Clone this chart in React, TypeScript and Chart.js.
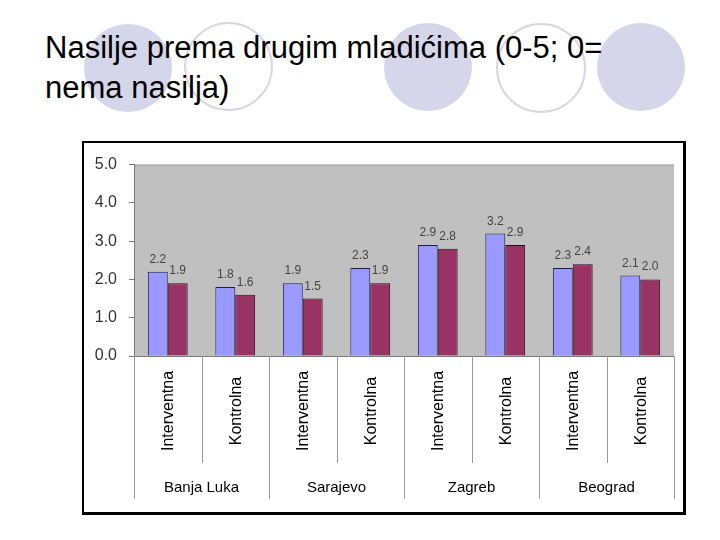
import React, { useEffect, useRef } from "react";
import { Chart, registerables } from "chart.js";

Chart.register(...registerables);

const titleText = "Nasilje prema drugim mladićima (0-5; 0= nema nasilja)";
const cities = ["Banja Luka", "Sarajevo", "Zagreb", "Beograd"];
const categories = [
  "Interventna", "Kontrolna",
  "Interventna", "Kontrolna",
  "Interventna", "Kontrolna",
  "Interventna", "Kontrolna",
];
const seriesBlue = [2.2, 1.8, 1.9, 2.3, 2.9, 3.2, 2.3, 2.1];
const seriesMaroon = [1.9, 1.6, 1.5, 1.9, 2.8, 2.9, 2.4, 2.0];
const yMin = 0;
const yMax = 5;
const yStep = 1;

const FONT = "'Liberation Sans', Arial, sans-serif";

const bgPlugin = {
  id: "plotBg",
  beforeDraw(chart: any) {
    const { ctx, chartArea: a } = chart;
    ctx.save();
    ctx.fillStyle = "#c0c0c0";
    ctx.fillRect(a.left, a.top, a.right - a.left, a.bottom - a.top);
    ctx.strokeStyle = "#9c9c9c";
    ctx.lineWidth = 1;
    ctx.beginPath();
    ctx.moveTo(a.left, a.top + 0.5);
    ctx.lineTo(a.right, a.top + 0.5);
    ctx.stroke();
    ctx.restore();
  },
};

const valueLabelPlugin = {
  id: "valueLabels",
  afterDatasetsDraw(chart: any) {
    const { ctx } = chart;
    ctx.save();
    ctx.font = `12px ${FONT}`;
    ctx.fillStyle = "#444";
    ctx.textAlign = "center";
    ctx.textBaseline = "alphabetic";
    chart.data.datasets.forEach((ds: any, di: number) => {
      const meta = chart.getDatasetMeta(di);
      meta.data.forEach((el: any, i: number) => {
        ctx.fillText(Number(ds.data[i]).toFixed(1), el.x, el.y - 9);
      });
    });
    ctx.restore();
  },
};

const categoryAxisPlugin = {
  id: "categoryAxis",
  afterDraw(chart: any) {
    const { ctx, chartArea: a } = chart;
    const xs = chart.scales.x;
    const n = categories.length;
    const w = (a.right - a.left) / n;
    ctx.save();
    ctx.strokeStyle = "#9a9a9a";
    ctx.lineWidth = 1;
    for (let i = 0; i <= n; i++) {
      const x = Math.round(a.left + i * w) + 0.5;
      const len = i % 2 === 0 ? 143 : 107;
      ctx.beginPath();
      ctx.moveTo(x, a.bottom);
      ctx.lineTo(x, a.bottom + len);
      ctx.stroke();
    }
    ctx.fillStyle = "#000";
    ctx.font = `16px ${FONT}`;
    ctx.textAlign = "center";
    ctx.textBaseline = "middle";
    categories.forEach((lab, i) => {
      const cx = xs.getPixelForValue(i);
      ctx.save();
      ctx.translate(cx + 1, a.bottom + 55);
      ctx.rotate(-Math.PI / 2);
      ctx.fillText(lab, 0, 0);
      ctx.restore();
    });
    ctx.font = `15px ${FONT}`;
    cities.forEach((c, g) => {
      const cx = (xs.getPixelForValue(g * 2) + xs.getPixelForValue(g * 2 + 1)) / 2;
      ctx.fillText(c, cx, a.bottom + 132);
    });
    ctx.restore();
  },
};

function ChartBox() {
  const ref = useRef<HTMLCanvasElement>(null);
  useEffect(() => {
    if (!ref.current) return;
    const chart = new Chart(ref.current, {
      type: "bar",
      data: {
        labels: categories,
        datasets: [
          {
            data: seriesBlue,
            backgroundColor: "#9999ff",
            borderColor: "#1c1c4a",
            borderWidth: 1,
            categoryPercentage: 0.59,
            barPercentage: 1,
          },
          {
            data: seriesMaroon,
            backgroundColor: "#993366",
            borderColor: "#2a0a18",
            borderWidth: 1,
            categoryPercentage: 0.59,
            barPercentage: 1,
          },
        ],
      },
      options: {
        responsive: false,
        animation: false,
        devicePixelRatio: 1,
        layout: { padding: { top: 20, right: 9, left: 0, bottom: 0 } },
        plugins: {
          legend: { display: false },
          tooltip: { enabled: false },
          title: { display: false },
        },
        scales: {
          x: {
            type: "category",
            offset: true,
            grid: { display: false },
            border: { display: true, color: "#7a7a7a", width: 1 },
            ticks: { display: false },
            afterFit: (s: any) => {
              s.height = 156;
            },
          },
          y: {
            min: yMin,
            max: yMax,
            ticks: {
              stepSize: yStep,
              callback: (v: any) => Number(v).toFixed(1),
              font: { family: FONT, size: 16 },
              color: "#333",
              padding: 12,
            },
            grid: {
              drawOnChartArea: false,
              drawTicks: true,
              tickLength: 5,
              color: "#7a7a7a",
            },
            border: { display: true, color: "#7a7a7a", width: 1 },
            afterFit: (s: any) => {
              s.width = 50;
            },
          },
        },
      },
      plugins: [bgPlugin, valueLabelPlugin, categoryAxisPlugin],
    } as any);
    return () => chart.destroy();
  }, []);
  return <canvas ref={ref} width={599} height={369} style={{ display: "block", width: 599, height: 369 }} />;
}

const filledCircles = [
  { cx: 128, cy: 67.5, r: 44 },
  { cx: 428, cy: 67, r: 44 },
  { cx: 640.5, cy: 67, r: 44 },
];
const ringCircles = [
  { cx: 228.5, cy: 66.5, r: 44.5 },
  { cx: 541, cy: 67.5, r: 45 },
];

export default function App() {
  return (
    <div
      style={{
        position: "fixed",
        left: 0,
        top: 0,
        width: 720,
        height: 540,
        background: "#fff",
        overflow: "hidden",
      }}
    >
      {filledCircles.map((c, i) => (
        <div
          key={"f" + i}
          style={{
            position: "absolute",
            left: c.cx - c.r,
            top: c.cy - c.r,
            width: c.r * 2,
            height: c.r * 2,
            borderRadius: "50%",
            background: "#d6d6eb",
          }}
        />
      ))}
      {ringCircles.map((c, i) => (
        <div
          key={"r" + i}
          style={{
            position: "absolute",
            left: c.cx - c.r,
            top: c.cy - c.r,
            width: c.r * 2,
            height: c.r * 2,
            boxSizing: "border-box",
            borderRadius: "50%",
            border: "2.5px solid #d6d6e4",
          }}
        />
      ))}
      <div
        style={{
          position: "absolute",
          left: 45,
          top: 28,
          width: 600,
          fontFamily: FONT,
          fontSize: 31,
          lineHeight: "40px",
          color: "#000",
        }}
      >
        {titleText}
      </div>
      <div
        style={{
          position: "absolute",
          left: 82,
          top: 141,
          width: 604,
          height: 374,
          boxSizing: "border-box",
          borderTop: "2px solid #000",
          borderLeft: "2px solid #000",
          borderRight: "3px solid #000",
          borderBottom: "3px solid #000",
          background: "#fff",
        }}
      >
        <ChartBox />
      </div>
    </div>
  );
}
